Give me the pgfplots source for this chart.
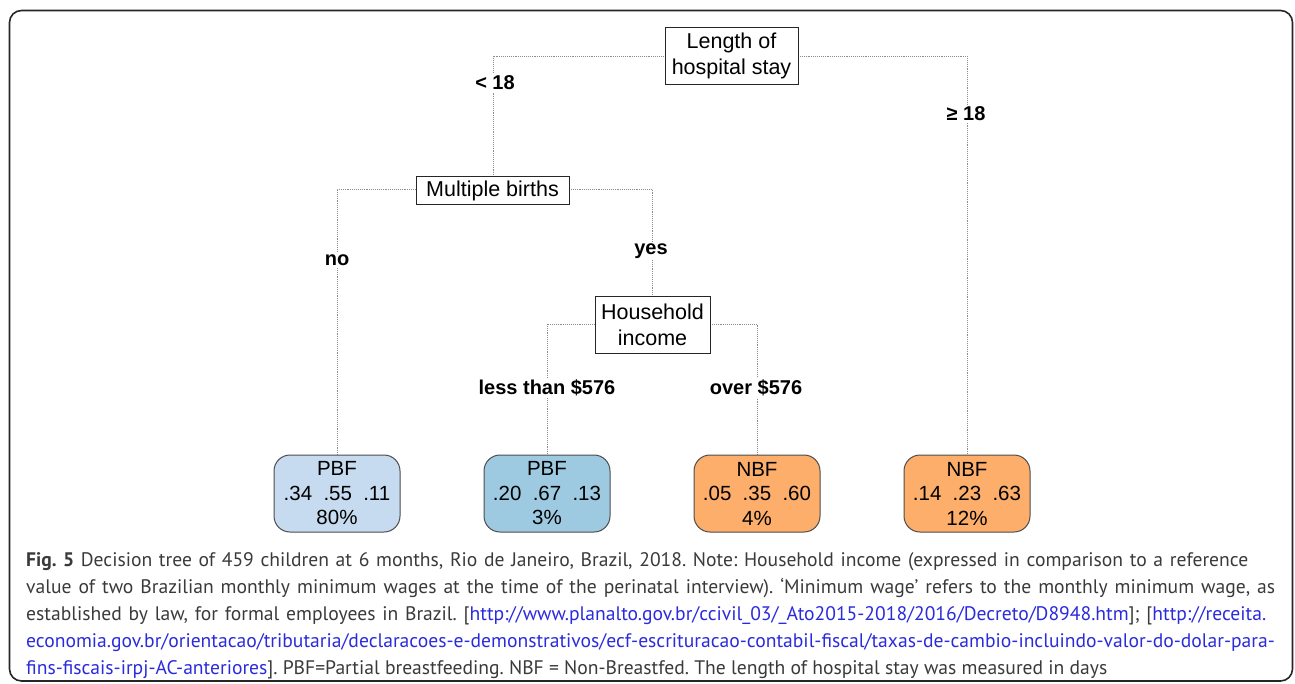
\documentclass[border=0pt]{standalone}
\usepackage{fontspec}
\setmainfont{Liberation Sans}
\newfontfamily\capfont{PT Sans}
\usepackage{pgfplots}
\pgfplotsset{compat=1.18}
\definecolor{leafA}{HTML}{C6DBEF}
\definecolor{leafB}{HTML}{9ECAE1}
\definecolor{leafC}{HTML}{FDAE6B}
\definecolor{linkblue}{HTML}{2B2BDE}
\definecolor{captxt}{HTML}{3A3A3A}
\tikzset{
  conn/.style={densely dotted, color=black!45, line width=0.9pt},
  split/.style={draw=black!85, fill=white, line width=1pt, inner sep=0pt, align=center, font=\fontsize{21.5}{26}\selectfont},
  leaf/.style={draw=black!70, line width=1pt, rounded corners=16pt, inner sep=0pt, align=center, minimum width=126pt, minimum height=77pt, font=\fontsize{20.5}{24.5}\selectfont},
  elab/.style={fill=white, inner sep=2pt, font=\fontsize{20}{24}\selectfont\bfseries},
  capl/.style={anchor=base west, inner sep=0pt, font=\capfont\fontsize{19.6}{27}\selectfont\frenchspacing\color{captxt}}
}
\newcommand{\gap}{\hspace{0.55em}}
\begin{document}
\begin{tikzpicture}
\begin{axis}[width=1295pt,height=683pt,scale only axis,
  xmin=0,xmax=1295,ymin=0,ymax=683,y dir=reverse,
  hide axis,clip=false]
% connectors
\addplot[conn] coordinates {(493,177) (493,56) (665,56)};
\addplot[conn] coordinates {(798,56) (967,56) (967,455)};
\addplot[conn] coordinates {(337,455) (337,189) (416,189)};
\addplot[conn] coordinates {(569,189) (652,189) (652,296)};
\addplot[conn] coordinates {(547,454) (547,324) (595,324)};
\addplot[conn] coordinates {(710,324) (757,324) (757,454)};
% outer frame
\draw[line width=1.6pt, rounded corners=12pt, color=black!85] (axis cs:9.5,10.5) rectangle (axis cs:1292.5,681);
% split nodes
\node[split, minimum width=133pt, minimum height=57pt] at (axis cs:731.5,55.5) {Length of\\hospital stay};
\node[split, minimum width=153pt, minimum height=28pt] at (axis cs:492.5,190.5) {Multiple births};
\node[split, minimum width=115pt, minimum height=57pt] at (axis cs:652.5,324.5) {Household\\income};
% edge labels
\node[elab] at (axis cs:495,83) {< 18};
\node[elab] at (axis cs:966,114) {≥ 18};
\node[elab] at (axis cs:337,260) {no};
\node[elab] at (axis cs:651,251) {yes};
\node[elab] at (axis cs:547,388) {less than \$576};
\node[elab] at (axis cs:756,388) {over \$576};
% leaves
\node[leaf, fill=leafA] at (axis cs:337,493.5) {PBF\\.34\gap.55\gap.11\\80\%};
\node[leaf, fill=leafB] at (axis cs:547,493.5) {PBF\\.20\gap.67\gap.13\\3\%};
\node[leaf, fill=leafC] at (axis cs:757,493.5) {NBF\\.05\gap.35\gap.60\\4\%};
\node[leaf, fill=leafC] at (axis cs:967,493.5) {NBF\\.14\gap.23\gap.63\\12\%};
% caption
\node[capl] at (axis cs:26,566) {\makebox[1222pt][s]{\textbf{Fig. 5} Decision tree of 459 children at 6 months, Rio de Janeiro, Brazil, 2018. Note: Household income (expressed in comparison to a reference}};
\node[capl] at (axis cs:26,593.5) {\makebox[1249pt][s]{value of two Brazilian monthly minimum wages at the time of the perinatal interview). ‘Minimum wage’ refers to the monthly minimum wage, as}};
\node[capl] at (axis cs:26,620.5) {\makebox[1240pt][s]{established by law, for formal employees in Brazil. [{\color{linkblue}http://www.planalto.gov.br/ccivil\_03/\_Ato2015-2018/2016/Decreto/D8948.htm}]; [{\color{linkblue}http://receita.}}};
\node[capl] at (axis cs:26,647.5) {\makebox[1241pt][s]{\color{linkblue}economia.gov.br/orientacao/tributaria/declaracoes-e-demonstrativos/ecf-escrituracao-contabil-fiscal/taxas-de-cambio-incluindo-valor-do-dolar-para-}};
\node[capl] at (axis cs:26,674) {{\color{linkblue}fins-fiscais-irpj-AC-anteriores}]. PBF=Partial breastfeeding. NBF = Non-Breastfed. The length of hospital stay was measured in days};
\end{axis}
\pgfresetboundingbox
\path (0,0) rectangle (1295pt,683pt);
\end{tikzpicture}
\end{document}
